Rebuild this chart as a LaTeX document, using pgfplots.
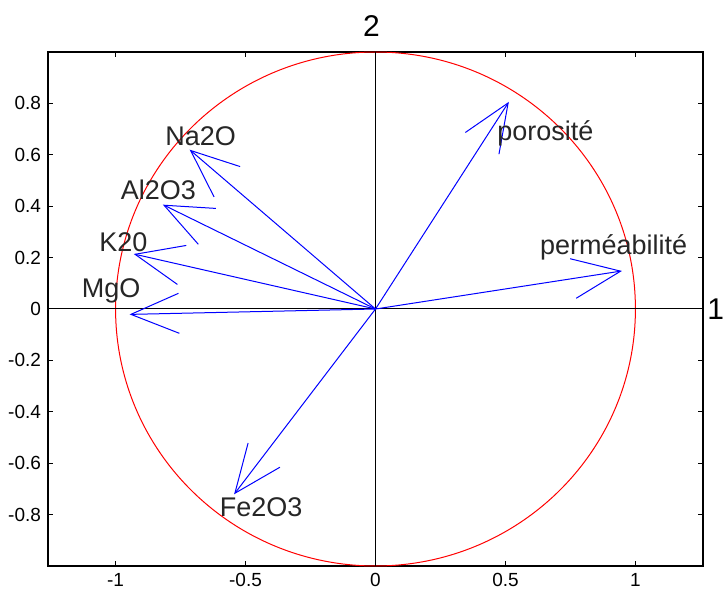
\documentclass[border=0pt]{standalone}
\usepackage{fontspec}
\setmainfont{Liberation Sans}
\usepackage{pgfplots}
\pgfplotsset{compat=1.18}
\usetikzlibrary{arrows.meta}

% arrow ends of the correlation circle (axes 1 and 2)
\pgfplotstableread{
x y u v
0 0 0.513 0.806
0 0 0.948 0.148
0 0 -0.715 0.620
0 0 -0.818 0.406
0 0 -0.930 0.214
0 0 -0.946 -0.021
0 0 -0.544 -0.721
}\arrowsdata

% where the names sit (left edge, middle)
\pgfplotstableread{
x y label
0.467 0.684 porosité
0.632 0.238 perméabilité
-0.810 0.672 Na2O
-0.981 0.463 Al2O3
-1.064 0.259 K20
-1.131 0.070 MgO
-0.600 -0.773 Fe2O3
}\labelsdata

\begin{document}
\begin{tikzpicture}
\begin{axis}[
    scale only axis,
    width=327.5pt, height=257pt,
    xmin=-1.26, xmax=1.26,
    ymin=-1, ymax=1,
    xtick={-1,-0.5,0,0.5,1},
    ytick={-0.8,-0.6,-0.4,-0.2,0,0.2,0.4,0.6,0.8},
    tick align=inside,
    major tick length=2.5pt,
    axis line style={black, line width=0.6pt},
    tick style={black, line width=0.5pt},
    tick label style={font=\fontsize{9.5}{11}\selectfont, black},
    /pgf/number format/assume math mode=true,
    xlabel={1},
    xlabel style={at={(axis description cs:1,0.5)}, anchor=west, inner sep=0pt, xshift=2pt, font=\fontsize{15}{17}\selectfont},
    ylabel={2},
    ylabel style={at={(axis description cs:0.5,1)}, anchor=south, rotate=-90, yshift=4pt, xshift=-2pt, font=\fontsize{15}{17}\selectfont},
    clip=false,
]
\draw[red, line width=0.5pt] (axis cs:0,0) ellipse [x radius=1, y radius=1];
\addplot[black, line width=0.5pt] coordinates {(-1.26,0) (1.26,0)};
\addplot[black, line width=0.5pt] coordinates {(0,-1) (0,1)};
\addplot[blue, line width=0.5pt,
    quiver={u=\thisrow{u}, v=\thisrow{v}},
    -{Straight Barb[length=24pt, width=20pt]}] table {\arrowsdata};
\addplot[only marks, mark=none, nodes near coords, point meta=explicit symbolic,
    nodes near coords style={anchor=west, inner sep=0pt, text=black!85,
    font=\fontsize{13.5}{15}\selectfont}] table[meta=label] {\labelsdata};
\end{axis}
\pgfresetboundingbox
\path (current axis.south west) ++(-24pt,-12pt) rectangle ([shift={(10.5pt,26pt)}]current axis.north east);
\end{tikzpicture}
\end{document}
